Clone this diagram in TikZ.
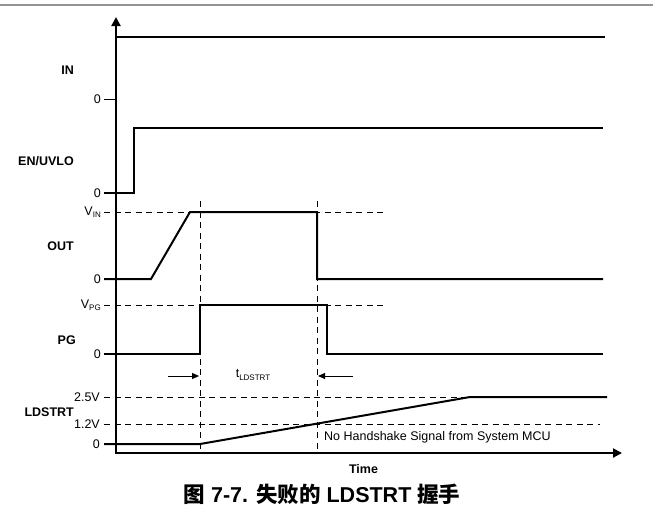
\documentclass[tikz,border=0pt]{standalone}
\usepackage{fontspec}
\setmainfont{Liberation Sans}
\newfontfamily\cjk{Noto Sans CJK SC}
\usetikzlibrary{arrows.meta}
\begin{document}
\begin{tikzpicture}[x=1pt,y=-1pt,
  sig/.style={line width=2pt, line join=miter},
  axis/.style={line width=2pt, -{Triangle[length=9pt,width=9pt]}},
  dsh/.style={line width=0.9pt, dash pattern=on 6pt off 4.5pt},
  lbl/.style={font=\fontsize{12.5}{14}\selectfont\bfseries, anchor=east, inner sep=0pt},
  tk/.style={font=\fontsize{12.5}{14}\selectfont, anchor=east, inner sep=0pt},
  dimarr/.style={line width=1pt, -{Triangle[length=7pt,width=6pt]}}]
\useasboundingbox (0,0) rectangle (653,523);
% top rule
\coordinate (rl) at (0,5); \coordinate (rr) at (653,5);
\draw[gray!85, line width=1.5pt] (rl) -- (rr);
% axes
\coordinate (o) at (116,453);
\coordinate (ytop) at (116,17);
\coordinate (xend) at (622,453);
\draw[axis] (o) -- (ytop);
\draw[axis] ([xshift=-1pt]o) -- (xend);
% dashed guide lines
\coordinate (vinL) at (104,212); \coordinate (vinR) at (383,212);
\coordinate (vpgL) at (104,305); \coordinate (vpgR) at (385,305);
\coordinate (v25L) at (104,397); \coordinate (v25R) at (470,397);
\coordinate (v12L) at (104,424); \coordinate (v12R) at (600,424);
\coordinate (d1t) at (200,201); \coordinate (d1b) at (200,452);
\coordinate (d2t) at (317,201); \coordinate (d2b) at (317,452);
\draw[dsh] (vinL) -- (vinR);
\draw[dsh] (vpgL) -- (vpgR);
\draw[dsh] (v25L) -- (v25R);
\draw[dsh] (v12L) -- (v12R);
\draw[dsh] (d1t) -- (d1b);
\draw[dsh] (d2t) -- (d2b);
% IN
\coordinate (inA) at (116,37); \coordinate (inB) at (605,37);
\draw[sig] (inA) -- (inB);
\coordinate (inT1) at (104,99); \coordinate (inT2) at (116,99);
\draw[line width=1pt] (inT1) -- (inT2);
% EN/UVLO
\coordinate (en0) at (104,193); \coordinate (en1) at (134,193);
\coordinate (en2) at (134,128); \coordinate (en3) at (603,128);
\draw[sig] (en0) -- (en1) -- (en2) -- (en3);
% OUT
\coordinate (out0) at (104,279); \coordinate (out1) at (151,279);
\coordinate (out2) at (190,212); \coordinate (out3) at (317,212);
\coordinate (out4) at (317,279); \coordinate (out5) at (603,279);
\draw[sig] (out0) -- (out1) -- (out2) -- (out3) -- (out4) -- (out5);
% PG
\coordinate (pg0) at (104,354); \coordinate (pg1) at (200,354);
\coordinate (pg2) at (200,305); \coordinate (pg3) at (327,305);
\coordinate (pg4) at (327,354); \coordinate (pg5) at (603,354);
\draw[sig] (pg0) -- (pg1) -- (pg2) -- (pg3) -- (pg4) -- (pg5);
% LDSTRT
\coordinate (ld0) at (104,444); \coordinate (ld1) at (200,444);
\coordinate (ld2) at (470,397); \coordinate (ld3) at (607,397);
\draw[sig] (ld0) -- (ld1) -- (ld2) -- (ld3);
% t_LDSTRT arrows
\coordinate (a1s) at (168,376); \coordinate (a1e) at (199,376);
\coordinate (a2s) at (353,376); \coordinate (a2e) at (318,376);
\draw[dimarr] (a1s) -- (a1e);
\draw[dimarr] (a2s) -- (a2e);
\node[font=\fontsize{12.5}{14}\selectfont, inner sep=0pt] (tl) at (253,375) {t\raisebox{-2.5pt}{\fontsize{8}{9}\selectfont LDSTRT}};
% signal labels
\node[lbl] (lin) at (74,70) {IN};
\node[lbl] (len) at (74,161) {EN/UVLO};
\node[lbl] (lout) at (74,246) {OUT};
\node[lbl] (lpg) at (76,340) {PG};
\node[lbl] (lld) at (74,412) {LDSTRT};
% tick labels
\node[tk] (t1) at (101,99) {0};
\node[tk] (t2) at (101,193) {0};
\node[tk] (t3) at (101,212) {V\raisebox{-2pt}{\fontsize{8}{9}\selectfont IN}};
\node[tk] (t4) at (101,279) {0};
\node[tk] (t5) at (101,305) {V\raisebox{-2pt}{\fontsize{8}{9}\selectfont PG}};
\node[tk] (t6) at (101,354) {0};
\node[tk] (t7) at (100,397) {2.5V};
\node[tk] (t8) at (100,424) {1.2V};
\node[tk] (t9) at (100,444) {0};
% notes
\node[font=\fontsize{12.5}{14}\selectfont, anchor=west, inner sep=0pt] (nh) at (324,437) {No Handshake Signal from System MCU};
\node[font=\fontsize{12.5}{14}\selectfont\bfseries, inner sep=0pt] (time) at (363.5,469) {Time};
% caption
\node[inner sep=0pt] (cap) at (322,494) {\fontsize{21.5}{24}\selectfont\bfseries{\cjk 图} 7-7. {\cjk 失败的} LDSTRT {\cjk 握手}};
\end{tikzpicture}
\end{document}
